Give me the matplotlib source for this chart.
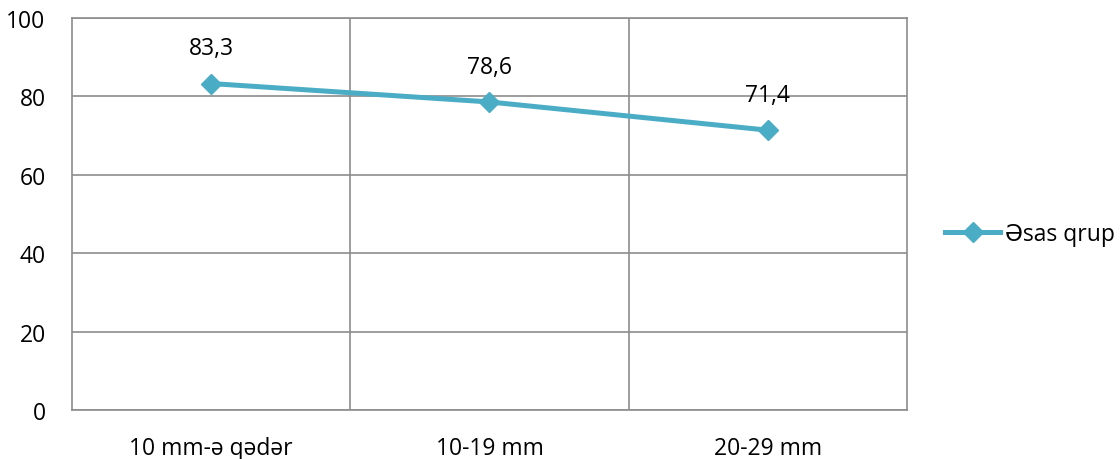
import matplotlib
matplotlib.use("Agg")
import matplotlib.pyplot as plt

categories = ["10 mm-ə qədər", "10-19 mm", "20-29 mm"]
values = [83.3, 78.6, 71.4]
labels = ["83,3", "78,6", "71,4"]
series_name = "Əsas qrup"
yticks = [0, 20, 40, 60, 80, 100]

plt.rcParams['font.family'] = ['Open Sans', 'DejaVu Sans']
color = "#4BACC6"
grid_c = "#8C8C8C"
fs = 16.5

fig = plt.figure(figsize=(11.2, 4.6), dpi=100)
ax = fig.add_axes([0.0643, 0.1065, 0.7455, 0.852])
x = list(range(len(categories)))
line, = ax.plot(x, values, color=color, lw=3.6, marker="D", markersize=10,
                markeredgecolor=color, markerfacecolor=color, label=series_name, zorder=3)
for xi, v, lab in zip(x, values, labels):
    ax.annotate(lab, (xi, v), xytext=(0, 21), textcoords="offset points",
                ha="center", va="baseline", fontsize=fs, color="black")

ax.set_xlim(-0.5, len(categories) - 0.5)
ax.set_ylim(0, 100)
ax.set_yticks(yticks)
ax.set_yticklabels([str(t) for t in yticks], fontsize=fs)
ax.set_xticks(x)
ax.set_xticklabels(categories, fontsize=fs)
ax.set_xticks([0.5, 1.5], minor=True)
ax.tick_params(axis="both", which="both", length=0)
ax.tick_params(axis="y", pad=19)
ax.tick_params(axis="x", pad=18.5)
ax.grid(axis="y", color=grid_c, lw=1.2)
ax.grid(axis="x", which="minor", color=grid_c, lw=1.2)
for s in ax.spines.values():
    s.set_color(grid_c)
    s.set_linewidth(1.2)
ax.set_axisbelow(True)

leg = fig.legend(handles=[line], loc="center left", bbox_to_anchor=(0.8438, 0.489),
                 frameon=False, fontsize=fs, handlelength=2.4, handletextpad=0.22,
                 borderpad=0, borderaxespad=0)

fig.savefig("out.png", dpi=100)
